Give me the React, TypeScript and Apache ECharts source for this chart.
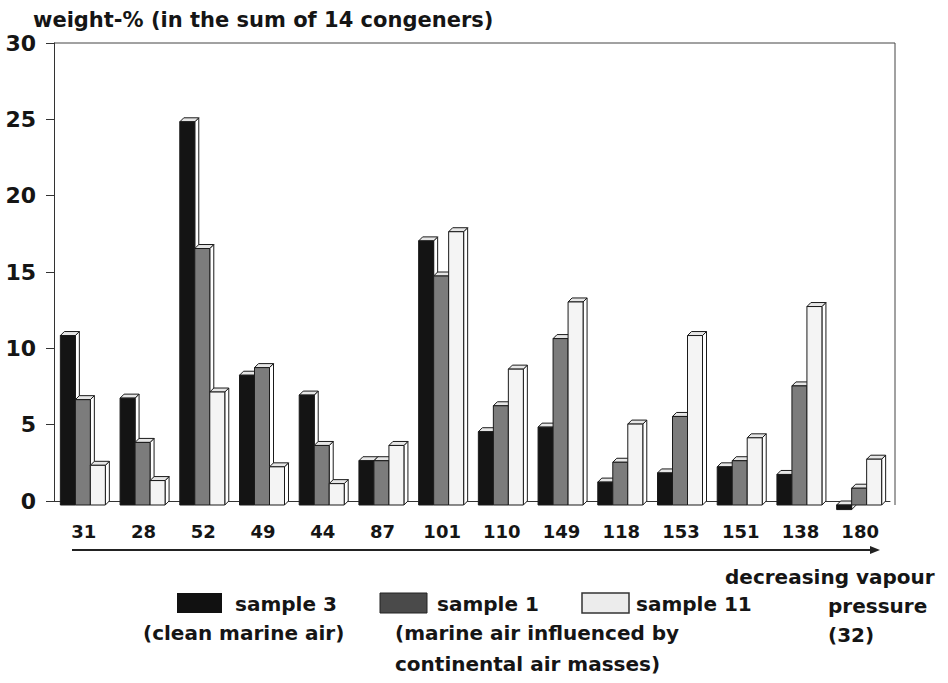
import React, { useEffect, useRef } from "react";
import * as echarts from "echarts";

const categories = ["31", "28", "52", "49", "44", "87", "101", "110", "149", "118", "153", "151", "138", "180"];
const sample3 = [11.1, 7.0, 25.1, 8.5, 7.2, 2.9, 17.3, 4.8, 5.1, 1.5, 2.1, 2.5, 2.0, -0.3];
const sample1 = [6.9, 4.1, 16.8, 9.0, 3.9, 2.9, 15.0, 6.5, 10.9, 2.8, 5.8, 2.9, 7.8, 1.1];
const sample11 = [2.6, 1.6, 7.4, 2.5, 1.4, 3.9, 17.9, 8.9, 13.3, 5.3, 11.1, 4.4, 13.0, 3.0];
const yTicks = { min: 0, max: 30, interval: 5 };

const seriesDefs = [
  { name: "sample 3", data: sample3, fill: "#141414" },
  { name: "sample 1", data: sample1, fill: "#7c7c7c" },
  { name: "sample 11", data: sample11, fill: "#f4f4f4" },
];

const FONT = "DejaVu Sans";
const INK = "#151515";

export default function App() {
  const ref = useRef<HTMLDivElement>(null);
  useEffect(() => {
    if (!ref.current) return;
    const chart = echarts.init(ref.current, null, { renderer: "svg" });
    const BW = 15;
    const D = 4;
    const makeRender = (i: number, fill: string) => (params: any, api: any) => {
      const c = api.value(0);
      const v = api.value(1);
      const base = api.coord([c, 0]);
      const top = api.coord([c, v]);
      const cx = base[0];
      const x = cx - 23.5 + i * BW;
      const yb = base[1] + D;
      const yt = top[1] + D;
      const y1 = Math.min(yb, yt);
      const y2 = Math.max(yb, yt);
      const stroke = "#1a1a1a";
      return {
        type: "group",
        children: [
          {
            type: "polygon",
            shape: { points: [[x + BW, y1], [x + BW + D, y1 - D], [x + BW + D, y2 - D], [x + BW, y2]] },
            style: { fill: "#ffffff", stroke, lineWidth: 1 },
          },
          {
            type: "polygon",
            shape: { points: [[x, y1], [x + D, y1 - D], [x + BW + D, y1 - D], [x + BW, y1]] },
            style: { fill: "#e6e6e6", stroke, lineWidth: 1 },
          },
          {
            type: "rect",
            shape: { x, y: y1, width: BW, height: Math.max(y2 - y1, 1) },
            style: { fill, stroke, lineWidth: 1 },
          },
        ],
      };
    };

    const txt = (text: string, x: number, y: number, size = 20, align = "left") => ({
      type: "text",
      x,
      y,
      style: {
        text,
        font: `bold ${size}px "${FONT}"`,
        fill: INK,
        textAlign: align,
        textVerticalAlign: "middle",
      },
    });

    chart.setOption({
      animation: false,
      backgroundColor: "#ffffff",
      grid: { left: 54, right: 58, top: 43, bottom: 182, containLabel: false },
      xAxis: {
        type: "category",
        data: categories,
        axisLine: { show: true, lineStyle: { color: "#333", width: 1 } },
        axisTick: { show: false },
        axisLabel: {
          margin: 21,
          fontFamily: FONT,
          fontWeight: "bold",
          fontSize: 18,
          color: INK,
        },
      },
      yAxis: {
        type: "value",
        min: yTicks.min,
        max: yTicks.max,
        interval: yTicks.interval,
        axisLine: { show: true, lineStyle: { color: "#333", width: 1 } },
        axisTick: { show: true, length: 8, lineStyle: { color: "#333" } },
        splitLine: { show: false },
        axisLabel: {
          margin: 18,
          fontFamily: FONT,
          fontWeight: "bold",
          fontSize: 22,
          color: INK,
        },
      },
      series: seriesDefs.map((s, i) => ({
        type: "custom",
        name: s.name,
        clip: false,
        renderItem: makeRender(i, s.fill),
        encode: { x: 0, y: 1 },
        data: s.data.map((v, c) => [c, v]),
        z: 2 + i,
      })),
      graphic: [
        txt("weight-% (in the sum of 14 congeners)", 33, 20, 21),
        { type: "line", shape: { x1: 54, y1: 43, x2: 895, y2: 43 }, style: { stroke: "#444", lineWidth: 1 } },
        { type: "line", shape: { x1: 895, y1: 43, x2: 895, y2: 505 }, style: { stroke: "#444", lineWidth: 1 } },
        { type: "line", shape: { x1: 72, y1: 550, x2: 874, y2: 550 }, style: { stroke: "#222", lineWidth: 2 } },
        { type: "polygon", shape: { points: [[870, 546], [880, 550], [870, 554]] }, style: { fill: "#222" } },
        { type: "rect", shape: { x: 177, y: 593, width: 45, height: 20 }, style: { fill: "#111" } },
        txt("sample 3", 235, 604),
        txt("(clean marine air)", 143, 633),
        { type: "rect", shape: { x: 380, y: 593, width: 47, height: 20 }, style: { fill: "#4a4a4a", stroke: "#222", lineWidth: 1 } },
        txt("sample 1", 437, 604),
        txt("(marine air influenced by", 395, 633),
        txt("continental air masses)", 395, 664),
        { type: "rect", shape: { x: 582, y: 593, width: 47, height: 20 }, style: { fill: "#ececec", stroke: "#333", lineWidth: 1.5 } },
        txt("sample 11", 636, 604),
        txt("decreasing vapour", 725, 577),
        txt("pressure", 828, 606),
        txt("(32)", 828, 635),
      ],
    });
    return () => chart.dispose();
  }, []);
  return (
    <div
      ref={ref}
      style={{ position: "absolute", left: 0, top: 0, width: 948, height: 683 }}
    />
  );
}
